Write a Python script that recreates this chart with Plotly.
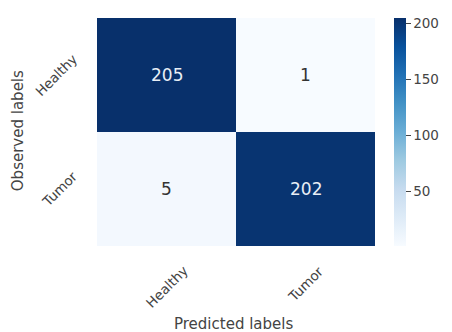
import plotly.graph_objects as go
from plotly.colors import sequential

# Confusion matrix: rows = observed, columns = predicted
class_labels = ["Healthy", "Tumor"]
counts = [
    [205, 1],
    [5, 202],
]
colorbar_ticks = [50, 100, 150, 200]

FONT = "DejaVu Sans"
TEXT_GRAY = "#444444"

z_min = min(min(r) for r in counts)
z_max = max(max(r) for r in counts)

fig = go.Figure(
    go.Heatmap(
        z=counts,
        x=class_labels,
        y=class_labels,
        colorscale=sequential.Blues,
        zmin=z_min,
        zmax=z_max,
        xgap=0,
        ygap=0,
        hoverinfo="skip",
        colorbar=dict(
            thickness=12,
            len=1.0,
            lenmode="fraction",
            y=0.5,
            yanchor="middle",
            x=1.07,
            xanchor="left",
            xpad=0,
            ypad=0,
            outlinewidth=0,
            tickmode="array",
            tickvals=colorbar_ticks,
            ticks="outside",
            ticklen=5,
            tickcolor=TEXT_GRAY,
            tickfont=dict(family=FONT, size=13.5, color=TEXT_GRAY),
        ),
    )
)

# Cell values: light text on dark cells, dark text on light cells
mid = (z_min + z_max) / 2
for i, row_label in enumerate(class_labels):
    for j, col_label in enumerate(class_labels):
        v = counts[i][j]
        fig.add_annotation(
            x=col_label, y=row_label, text=str(v), showarrow=False,
            font=dict(family=FONT, size=17,
                      color="#e8eef6" if v > mid else "#333333"),
        )

# Rotated category labels: x labels hang from a common top line,
# y labels share a common right edge
for name in class_labels:
    fig.add_annotation(
        x=name, xref="x", y=-0.063, yref="paper", text=name,
        textangle=-45, showarrow=False, xanchor="center", yanchor="top",
        font=dict(family=FONT, size=13.5, color=TEXT_GRAY),
    )
    fig.add_annotation(
        x=-0.05, xref="paper", y=name, yref="y", text=name,
        textangle=-45, showarrow=False, xanchor="right", yanchor="middle",
        font=dict(family=FONT, size=13.5, color=TEXT_GRAY),
    )

# Axis titles
fig.add_annotation(
    x=0.49, xref="paper", y=-0.34, yref="paper", text="Predicted labels",
    showarrow=False, xanchor="center", yanchor="middle",
    font=dict(family=FONT, size=15, color=TEXT_GRAY),
)
fig.add_annotation(
    x=-0.283, xref="paper", y=0.505, yref="paper", text="Observed labels",
    textangle=-90, showarrow=False, xanchor="center", yanchor="middle",
    font=dict(family=FONT, size=15, color=TEXT_GRAY),
)

fig.update_xaxes(showticklabels=False, ticks="", showgrid=False,
                 zeroline=False, showline=False)
fig.update_yaxes(showticklabels=False, ticks="", showgrid=False,
                 zeroline=False, showline=False, autorange="reversed")

fig.update_layout(
    width=452,
    height=332,
    margin=dict(l=97, r=74, t=18, b=86),
    paper_bgcolor="white",
    plot_bgcolor="white",
    font=dict(family=FONT, color=TEXT_GRAY),
)

fig.write_html("out.html")
